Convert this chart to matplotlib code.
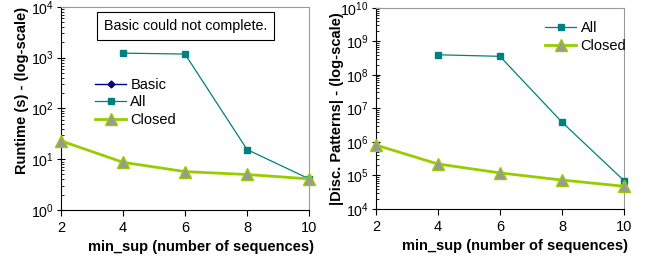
import matplotlib.pyplot as plt
from matplotlib.ticker import LogLocator, NullFormatter

plt.rcParams["font.family"] = ["Liberation Sans", "DejaVu Sans"]
plt.rcParams["mathtext.fontset"] = "custom"
plt.rcParams["mathtext.rm"] = "Liberation Sans"

##### Data
min_sup = [2, 4, 6, 8, 10]
all_x = [4, 6, 8, 10]

# runtime (s)
runtime_all = [1230, 1180, 15.5, 4.1]
runtime_closed = [23, 8.7, 5.7, 5.0, 4.1]

# number of discovered patterns
patterns_all = [4.0e8, 3.6e8, 3.9e6, 7.0e4]
patterns_closed = [8.1e5, 2.2e5, 1.19e5, 7.3e4, 4.75e4]

teal = "#008080"
navy = "#000080"
green = "#99CC00"
grey = "#999999"


def style_axes(ax, ylo, yhi):
    ax.set_yscale("log")
    ax.set_xlim(2, 10)
    ax.set_ylim(ylo, yhi)
    ax.set_xticks(min_sup)
    ax.yaxis.set_major_locator(LogLocator(base=10, numticks=20))
    ax.yaxis.set_minor_locator(LogLocator(base=10, subs=range(2, 10), numticks=20))
    ax.yaxis.set_minor_formatter(NullFormatter())
    ax.tick_params(axis="x", direction="out", length=4, labelsize=10.5, pad=4)
    ax.tick_params(axis="y", which="major", direction="inout", length=6, labelsize=10.2, pad=2)
    ax.tick_params(axis="y", which="minor", direction="in", length=2.5)
    for s in ["top", "right"]:
        ax.spines[s].set_color("#999999")
    for s in ["left", "bottom"]:
        ax.spines[s].set_color("black")
    ax.set_xlabel("min_sup (number of sequences)", fontsize=10.5, fontweight="bold",
                  loc="right", labelpad=0)
    ax.xaxis.set_label_coords(1.018, -0.15)


fig = plt.figure(figsize=(6.48, 2.57), dpi=100)
ax1 = fig.add_axes([0.094, 0.183, 0.383, 0.790])
ax2 = fig.add_axes([0.580, 0.187, 0.383, 0.782])

### Runtime
ax1.plot([], [], color=navy, lw=1, marker="D", ms=3.5, label="Basic")
ax1.plot(all_x, runtime_all, color=teal, lw=0.9, marker="s", ms=5, clip_on=False, label="All", zorder=3)
ax1.plot(min_sup, runtime_closed, color=green, lw=2, marker="^", ms=9, mfc=grey, mec=green,
         mew=1, clip_on=False, label="Closed", zorder=4)
style_axes(ax1, 1, 1e4)
ax1.set_ylabel("Runtime (s) - (log-scale)", fontsize=10.5, fontweight="bold")
ax1.yaxis.set_label_coords(-0.13, 0.59)
ax1.legend(loc="center left", bbox_to_anchor=(0.115, 0.53), frameon=False, fontsize=10.5,
           handlelength=2.1, handletextpad=0.3, labelspacing=0.25, borderaxespad=0)
ax1.text(0.502, 0.906, "Basic could not complete.", transform=ax1.transAxes, ha="center",
         va="center", fontsize=10.3,
         bbox=dict(boxstyle="square,pad=0.5", fc="white", ec="black", lw=0.8))

### Discovered patterns
ax2.plot(all_x, patterns_all, color=teal, lw=0.9, marker="s", ms=5, clip_on=False, label="All", zorder=3)
ax2.plot(min_sup, patterns_closed, color=green, lw=2, marker="^", ms=9, mfc=grey, mec=green,
         mew=1, clip_on=False, label="Closed", zorder=4)
style_axes(ax2, 1e4, 1e10)
ax2.set_ylabel("|Disc. Patterns| - (log-scale)", fontsize=10.5, fontweight="bold")
ax2.yaxis.set_label_coords(-0.128, 0.5)
ax2.legend(loc="center left", bbox_to_anchor=(0.66, 0.855), frameon=False, fontsize=10.5,
           handlelength=2.1, handletextpad=0.3, labelspacing=0.25, borderaxespad=0)

fig.savefig("out.png", dpi=100)
